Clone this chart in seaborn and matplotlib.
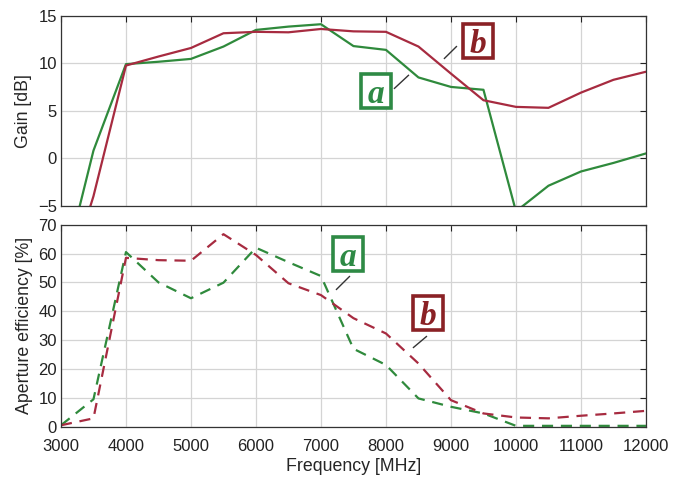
import numpy as np
import pandas as pd
import matplotlib
matplotlib.use("Agg")
import matplotlib.pyplot as plt
from matplotlib.patches import Rectangle
import seaborn as sns

# Frequency sweep (MHz)
freq = [3000, 3500, 4000, 4500, 5000, 5500, 6000, 6500, 7000, 7500,
        8000, 8500, 9000, 9500, 10000, 10500, 11000, 11500, 12000]

# Realized gain (dB)
gain_a = [-13.0, 0.8, 9.9, 10.15, 10.45, 11.75, 13.5, 13.85, 14.1, 11.8,
          11.4, 8.5, 7.5, 7.2, -5.6, -2.9, -1.4, -0.5, 0.5]
gain_b = [-15.0, -4.0, 9.75, 10.7, 11.6, 13.15, 13.3, 13.25, 13.6, 13.35,
          13.3, 11.75, 8.9, 6.1, 5.4, 5.3, 6.9, 8.25, 9.1]

# Aperture efficiency (%)
eff_a = [0.5, 9.5, 60.5, 50.0, 44.5, 49.9, 62.0, 57.0, 52.2, 27.0,
         21.4, 9.8, 6.9, 4.6, 0.3, 0.3, 0.3, 0.3, 0.3]
eff_b = [0.5, 2.9, 58.5, 57.7, 57.5, 66.7, 59.5, 49.7, 45.6, 37.6,
         32.3, 21.9, 9.2, 4.6, 3.2, 2.9, 3.8, 4.6, 5.5]

green = "#2f8a3c"
red = "#a72b40"
green_box = "#2e8a45"
red_box = "#8a2125"

sns.set_theme(style="whitegrid")
plt.rcParams["font.family"] = ["Liberation Sans", "DejaVu Sans"]
plt.rcParams.update({
    "axes.edgecolor": "#333333",
    "axes.linewidth": 0.9,
    "grid.color": "#d4d4d4",
    "grid.linewidth": 0.9,
    "xtick.direction": "in",
    "ytick.direction": "in",
    "xtick.top": True,
    "ytick.right": True,
    "xtick.major.size": 4,
    "ytick.major.size": 4,
    "xtick.major.width": 0.8,
    "ytick.major.width": 0.8,
    "xtick.color": "#222222",
    "ytick.color": "#222222",
    "xtick.labelsize": 12,
    "ytick.labelsize": 12,
})

gain_df = pd.DataFrame({"freq": freq * 2,
                        "value": gain_a + gain_b,
                        "antenna": ["a"] * len(freq) + ["b"] * len(freq)})
eff_df = pd.DataFrame({"freq": freq * 2,
                       "value": eff_a + eff_b,
                       "antenna": ["a"] * len(freq) + ["b"] * len(freq)})
palette = {"a": green, "b": red}

fig = plt.figure(figsize=(6.85, 4.78), dpi=100)
ax1 = fig.add_axes([0.089, 0.5697, 0.854, 0.3975])
ax2 = fig.add_axes([0.089, 0.1073, 0.854, 0.4227])

sns.lineplot(data=gain_df, x="freq", y="value", hue="antenna", palette=palette,
             linewidth=1.6, legend=False, ax=ax1)
sns.lineplot(data=eff_df, x="freq", y="value", hue="antenna", palette=palette,
             linewidth=1.6, legend=False, ax=ax2)
for line in ax2.get_lines():
    line.set_dashes((5, 3.5))

for ax in (ax1, ax2):
    ax.set_xlim(3000, 12000)
    ax.set_xticks(np.arange(3000, 12001, 1000))
    for sp in ax.spines.values():
        sp.set_visible(True)
        sp.set_color("#333333")
    ax.tick_params(axis="y", which="major", pad=3)
    ax.tick_params(axis="x", which="major", pad=9)

ax1.set_ylim(-5, 15)
ax1.set_yticks([-5, 0, 5, 10, 15])
ax1.set_xticklabels([])
ax1.set_xlabel("")
ax1.set_ylabel("Gain [dB]", fontsize=12.8, labelpad=4)

ax2.set_ylim(0, 70)
ax2.set_yticks(np.arange(0, 71, 10))
ax2.set_xlabel("Frequency [MHz]", fontsize=12.8, labelpad=3)
ax2.set_ylabel("Aperture efficiency [%]", fontsize=12.8, labelpad=4)


def tag(ax, text, xy, size, leader, color):
    """Boxed italic letter with a short leader line pointing to a curve."""
    w, h = size
    ax.add_patch(Rectangle((xy[0] - w / 2, xy[1] - h / 2), w, h,
                           facecolor="white", edgecolor=color,
                           linewidth=2.6, zorder=5))
    ax.text(xy[0], xy[1], text, ha="center", va="center_baseline",
            fontsize=24, family=["Liberation Serif", "DejaVu Serif"],
            style="italic", weight="bold", color=color, zorder=6)
    ax.plot([leader[0], leader[2]], [leader[1], leader[3]], color="#333333",
            linewidth=1.0, solid_capstyle="butt")


# box sizes in data units (frequency span, value span)
top_box = (460, 3.6)
bot_box = (460, 12.0)
tag(ax1, "b", (9415, 12.3), top_box, (9092, 11.8, 8892, 10.45), red_box)
tag(ax1, "a", (7846, 7.1), top_box, (8354, 8.77, 8123, 7.3), green_box)
tag(ax2, "a", (7415, 59.8), bot_box, (7446, 52.2, 7231, 47.4), green_box)
tag(ax2, "b", (8646, 39.4), bot_box, (8631, 31.4, 8415, 27.3), red_box)

fig.savefig("out.png", dpi=100)
